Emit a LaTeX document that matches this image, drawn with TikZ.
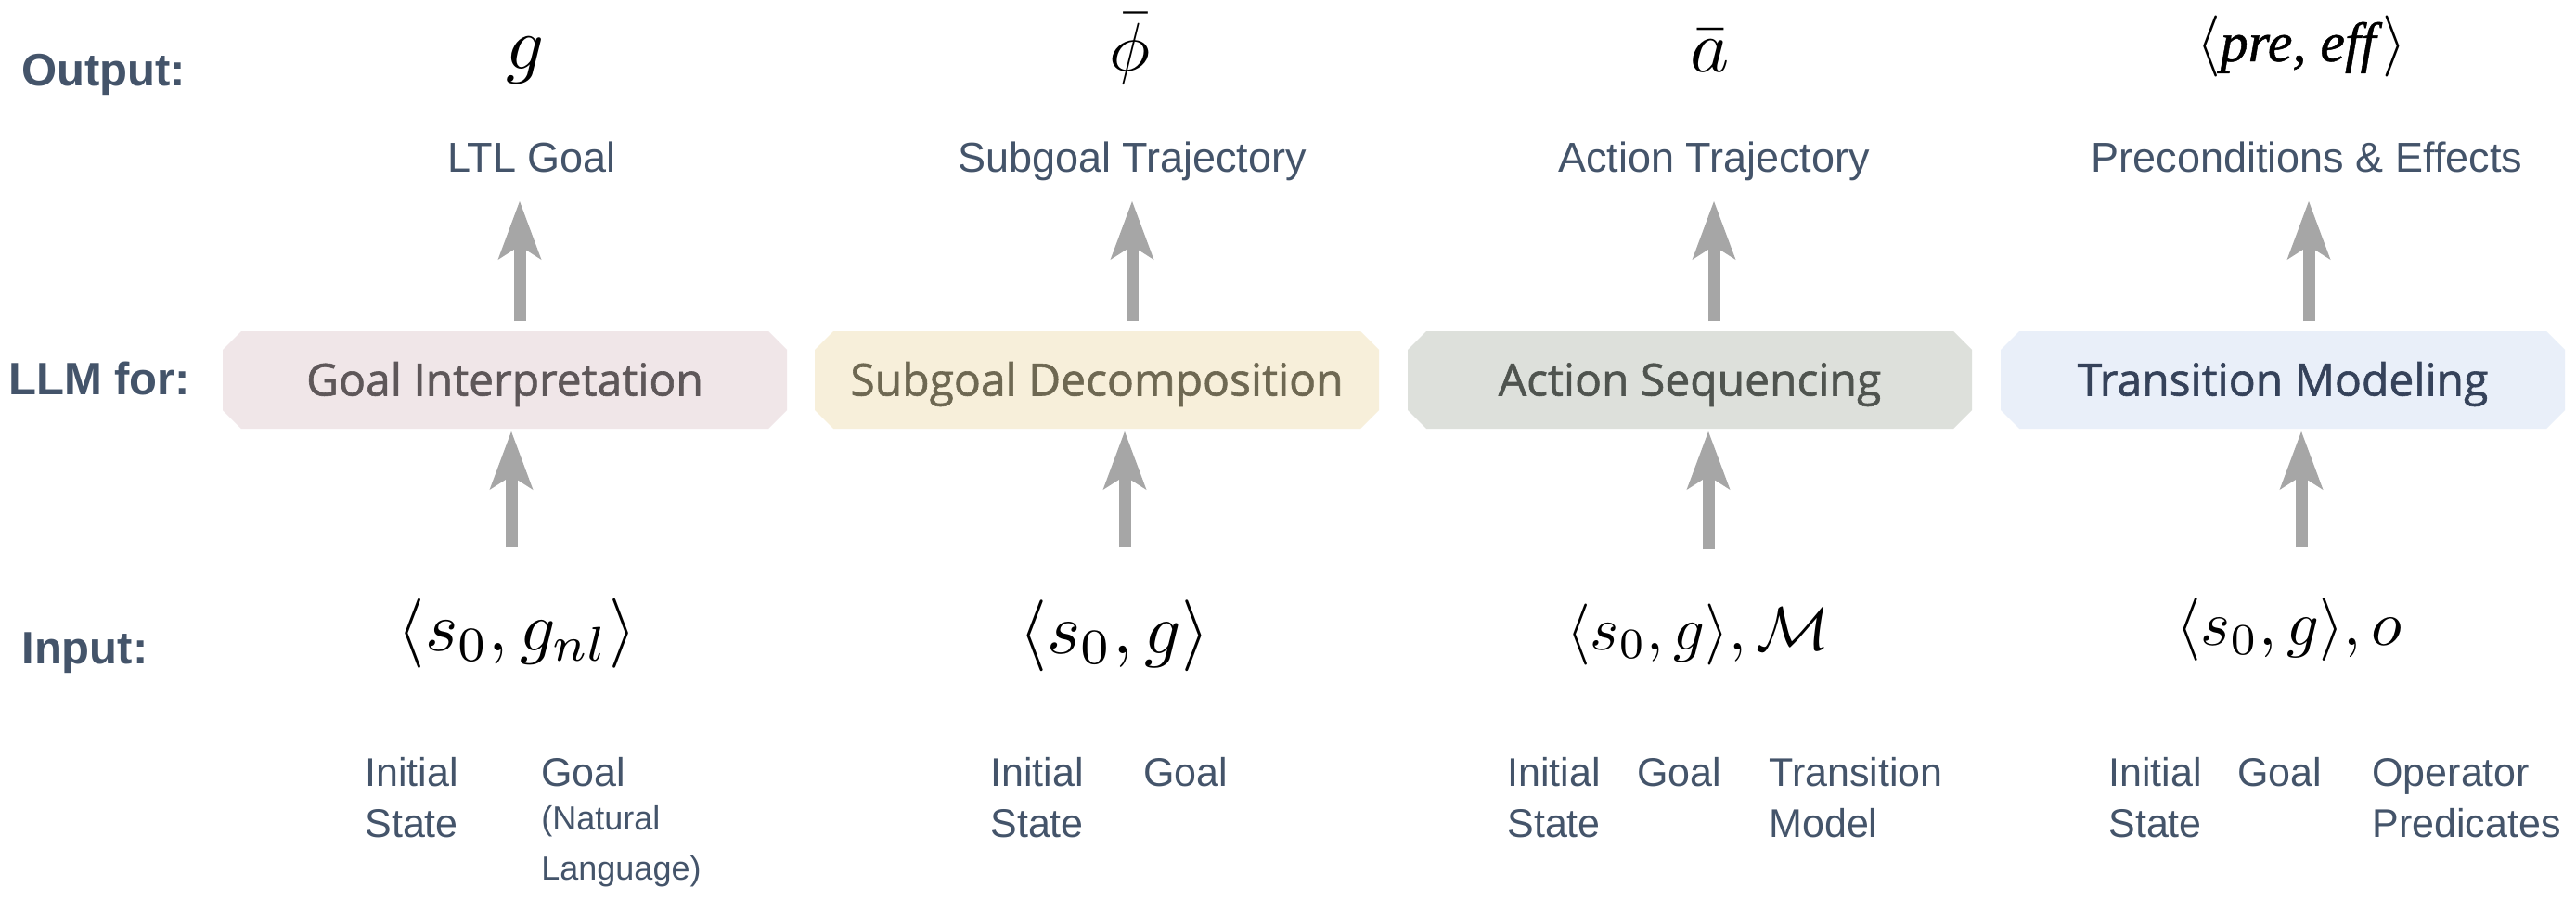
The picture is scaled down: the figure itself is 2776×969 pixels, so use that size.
\documentclass[tikz,border=0pt]{standalone}
\usepackage{graphicx}
\usepackage{fontspec}
\setmainfont{Liberation Sans}
\newfontfamily\boxfont[FakeBold=1.2]{Open Sans}
\newfontfamily\timesfont[FakeBold=0.8]{Liberation Serif}
\usetikzlibrary{arrows.meta,shapes.misc}
\definecolor{txt}{HTML}{44546A}
\definecolor{arrowgray}{HTML}{A6A6A6}
\definecolor{fillA}{HTML}{F0E6E8}
\definecolor{fillB}{HTML}{F7EFDA}
\definecolor{fillC}{HTML}{DDE0DB}
\definecolor{fillD}{HTML}{E9EFF9}
\definecolor{textA}{HTML}{5E5759}
\definecolor{textB}{HTML}{6E6852}
\definecolor{textC}{HTML}{4F544F}
\definecolor{textD}{HTML}{35425A}
\newcommand{\mth}[2]{\scalebox{#1}{\fontsize{10}{12}\selectfont$#2$}}
\tikzset{
  rowlab/.style={font=\bfseries\fontsize{24.5}{28}\selectfont, text=txt, anchor=base west, inner sep=0pt},
  outlab/.style={font=\fontsize{22.5}{26}\selectfont, text=txt, anchor=base, inner sep=0pt},
  sublab/.style={font=\fontsize{21.5}{26}\selectfont, text=txt, anchor=base west, inner sep=0pt},
  smalllab/.style={font=\fontsize{18}{22}\selectfont, text=txt, anchor=base west, inner sep=0pt},
  sym/.style={anchor=base, inner sep=0pt, text=black},
  taskbox/.style={chamfered rectangle, chamfered rectangle xsep=5pt, chamfered rectangle ysep=5pt,
    minimum width=304pt, minimum height=52.5pt, inner sep=0pt, text height=17pt, text depth=0pt,
    font=\boxfont\fontsize{24}{28}\selectfont},
  arr/.style={draw=arrowgray, line width=6.5pt,
    -{Stealth[length=31.5pt, width=23.5pt, inset=7.5pt, line width=0pt]}},
}
\begin{document}
\begin{tikzpicture}[x=0.5pt, y=-0.5pt]
\useasboundingbox[fill=white] (0,0) rectangle (2776,969);

% row labels
\node[rowlab] (rowout) at (23,92) {Output:};
\node[rowlab] (rowllm) at (9,425) {LLM for:};
\node[rowlab] (rowin) at (23,715) {Input:};

% output symbols
\node[sym] (o1) at (566,74) {\mth{4.0}{g}};
\node[sym] (o2) at (1218,76) {\mth{3.7}{\bar{\phi}}};
\node[sym] (o3) at (1843,77) {\mth{4.0}{\bar{a}}};
\node[sym] (o4) at (2480,66)
  {\mth{3.3}{\langle}{\fontsize{30}{34}\selectfont\timesfont\itshape pre, eff\/}\mth{3.3}{\rangle}};

% output labels
\node[outlab] (l1) at (573,185) {LTL Goal};
\node[outlab] (l2) at (1220,185) {Subgoal Trajectory};
\node[outlab] (l3) at (1847,185) {Action Trajectory};
\node[outlab] (l4) at (2486,185) {Preconditions \& Effects};

% task boxes
\node[taskbox, fill=fillA, text=textA] (b1) at (544,409.5) {Goal Interpretation};
\node[taskbox, fill=fillB, text=textB] (b2) at (1182,409.5) {Subgoal Decomposition};
\node[taskbox, fill=fillC, text=textC] (b3) at (1821,409.5) {Action Sequencing};
\node[taskbox, fill=fillD, text=textD] (b4) at (2460,409.5) {Transition Modeling};

% input math
\node[sym] (i1) at (557,701) {\mth{3.75}{\langle s_0, g_{nl}\rangle}};
\node[sym] (i2) at (1201,704) {\mth{3.85}{\langle s_0, g\rangle}};
\node[sym] (i3) at (1830,700) {\mth{3.3}{\langle s_0, g\rangle, \mathcal{M}}};
\node[sym] (i4) at (2467,695) {\mth{3.4}{\langle s_0, g\rangle, o}};

% input descriptions
\node[sublab] (d1a) at (393,847) {Initial};
\node[sublab] (d1b) at (393,902) {State};
\node[sublab] (d1c) at (583,847) {Goal};
\node[smalllab] (d1d) at (583,894) {(Natural};
\node[smalllab] (d1e) at (583,948) {Language)};

\node[sublab] (d2a) at (1067,847) {Initial};
\node[sublab] (d2b) at (1067,902) {State};
\node[sublab] (d2c) at (1232,847) {Goal};

\node[sublab] (d3a) at (1624,847) {Initial};
\node[sublab] (d3b) at (1624,902) {State};
\node[sublab] (d3c) at (1764,847) {Goal};
\node[sublab] (d3d) at (1906,847) {Transition};
\node[sublab] (d3e) at (1906,902) {Model};

\node[sublab] (d4a) at (2272,847) {Initial};
\node[sublab] (d4b) at (2272,902) {State};
\node[sublab] (d4c) at (2411,847) {Goal};
\node[sublab] (d4d) at (2556,847) {Operator};
\node[sublab] (d4e) at (2556,902) {Predicates};

% arrow end points
\coordinate (u1s) at (560,346); \coordinate (u1e) at (560,217);
\coordinate (u2s) at (1220,346); \coordinate (u2e) at (1220,217);
\coordinate (u3s) at (1847,346); \coordinate (u3e) at (1847,217);
\coordinate (u4s) at (2488,346); \coordinate (u4e) at (2488,217);
\coordinate (w1s) at (551,590); \coordinate (w1e) at (551,465);
\coordinate (w2s) at (1212,590); \coordinate (w2e) at (1212,465);
\coordinate (w3s) at (1841,592); \coordinate (w3e) at (1841,465);
\coordinate (w4s) at (2480,590); \coordinate (w4e) at (2480,465);

\foreach \k in {1,2,3,4} {
  \draw[arr] (u\k s) -- (u\k e);
  \draw[arr] (w\k s) -- (w\k e);
}
\end{tikzpicture}
\end{document}
